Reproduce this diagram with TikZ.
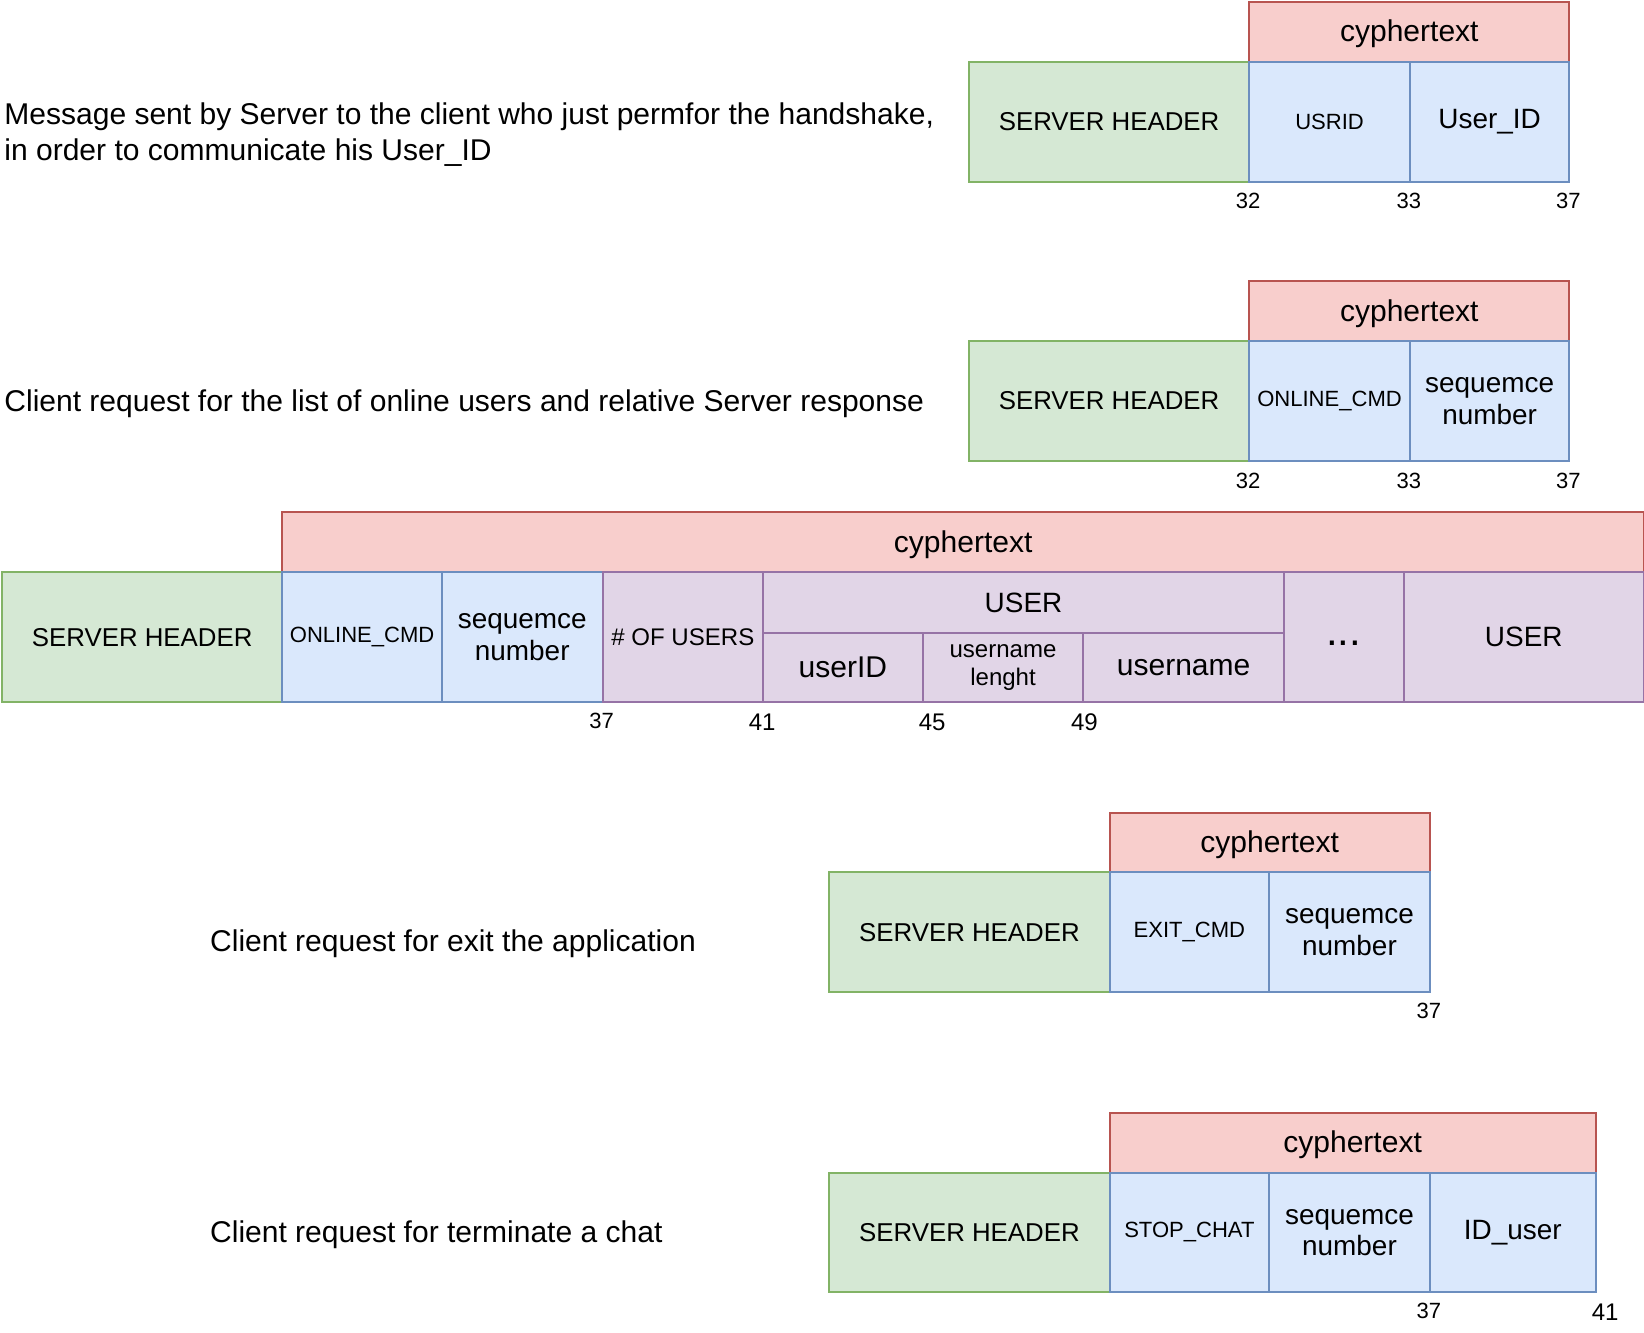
\documentclass[tikz,border=0pt]{standalone}
\usepackage{fontspec}
\setmainfont{Liberation Sans}
\definecolor{gfill}{HTML}{D5E8D4}\definecolor{gline}{HTML}{82B366}
\definecolor{bfill}{HTML}{DAE8FC}\definecolor{bline}{HTML}{6C8EBF}
\definecolor{rfill}{HTML}{F8CECC}\definecolor{rline}{HTML}{B85450}
\definecolor{pfill}{HTML}{E1D5E7}\definecolor{pline}{HTML}{9673A6}
\newcommand\fs[2]{\fontsize{#1}{#2}\selectfont}
\newcommand\sinktext[2]{\raisebox{-#1}[\height][\depth]{#2}}
\tikzset{
  cellbox/.style={draw, line width=1.9pt, inner sep=2pt, anchor=north west, align=center, font=\fs{26.6}{30}},
  grn/.style={cellbox, fill=gfill, draw=gline, font=\fs{24.6}{28}},
  blu/.style={cellbox, fill=bfill, draw=bline},
  red/.style={cellbox, fill=rfill, draw=rline, font=\fs{28.6}{33}},
  pur/.style={cellbox, fill=pfill, draw=pline},
  small/.style={font=\fs{21}{25}},
  mid/.style={font=\fs{22.9}{26}},
  big/.style={font=\fs{28.6}{33}},
  numlab/.style={inner sep=0pt, font=\fs{21}{25}},
  numlabb/.style={inner sep=0pt, font=\fs{22.9}{26}},
  desc/.style={inner sep=0pt, anchor=west, align=left, font=\fs{28.6}{34}}
}
% \cell{name}{style}{x1}{y1}{x2}{y2}{text}
\newcommand\cell[7]{\node[#2, minimum width={#5-#3}, minimum height={#6-#4}] (#1) at (#3,#4) {#7};}
\begin{document}
\begin{tikzpicture}[x=1pt,y=-1pt]
\useasboundingbox (0,0) rectangle (1566,1269);
% Row 1
\cell{ra}{red}{1189}{1}{1494}{58}{\sinktext{2pt}{cyphertext}}
\cell{ha}{grn}{922}{58}{1189}{172}{SERVER HEADER}
\cell{a1}{blu,small}{1189}{58}{1342}{172}{USRID}
\cell{a2}{blu}{1342}{58}{1494}{172}{User\_ID}
\node[numlab] (na1) at (1189,191) {32};
\node[numlab] (na2) at (1342,191) {33};
\node[numlab] (na3) at (1494,191) {37};
\node[desc] (da) at (4,128) {Message sent by Server to the client who just permfor the handshake,\\in order to communicate his User\_ID};
% Row 2
\cell{rb}{red}{1189}{267}{1494}{324}{\sinktext{2pt}{cyphertext}}
\cell{hb}{grn}{922}{324}{1189}{438}{SERVER HEADER}
\cell{b1}{blu,small}{1189}{324}{1342}{438}{ONLINE\_CMD}
\cell{b2}{blu}{1342}{324}{1494}{438}{sequemce\\number}
\node[numlab] (nb1) at (1189,458) {32};
\node[numlab] (nb2) at (1342,458) {33};
\node[numlab] (nb3) at (1494,458) {37};
\node[desc] (db) at (4,385) {Client request for the list of online users and relative Server response};
% Row 3
\cell{rc}{red}{268}{487}{1565}{544}{\sinktext{2pt}{cyphertext}}
\cell{hc}{grn}{1}{544}{268}{668}{SERVER HEADER}
\cell{c1}{blu,small}{268}{544}{420}{668}{ONLINE\_CMD}
\cell{c2}{blu}{420}{544}{573}{668}{sequemce\\number}
\cell{c3}{pur,mid}{573}{544}{726}{668}{\# OF USERS}
\cell{c4}{pur}{726}{544}{1222}{602}{USER}
\cell{c5}{pur,big}{726}{602}{878}{668}{userID}
\cell{c6}{pur,mid}{878}{602}{1031}{668}{username\\lenght}
\cell{c7}{pur,big}{1031}{602}{1222}{668}{username}
\cell{c8}{pur,font=\fs{40}{44}}{1222}{544}{1336}{668}{\sinktext{6pt}{...}}
\cell{c9}{pur}{1336}{544}{1565}{668}{USER}
\node[numlab] (nc1) at (573,687) {37};
\node[numlabb] (nc2) at (726,688) {41};
\node[numlabb] (nc3) at (888,688) {45};
\node[numlabb] (nc4) at (1033,688) {49};
% Row 4
\cell{rd}{red}{1056}{773}{1361}{830}{\sinktext{2pt}{cyphertext}}
\cell{hd}{grn}{789}{830}{1056}{944}{SERVER HEADER}
\cell{d1}{blu,small}{1056}{830}{1208}{944}{EXIT\_CMD}
\cell{d2}{blu}{1208}{830}{1361}{944}{sequemce\\number}
\node[numlab] (nd1) at (1361,963) {37};
\node[desc] (dd) at (200,899) {Client request for exit the application};
% Row 5
\cell{re}{red}{1056}{1059}{1519}{1116}{\sinktext{2pt}{cyphertext}}
\cell{he}{grn}{789}{1116}{1056}{1230}{SERVER HEADER}
\cell{e1}{blu,small}{1056}{1116}{1208}{1230}{STOP\_CHAT}
\cell{e2}{blu}{1208}{1116}{1361}{1230}{sequemce\\number}
\cell{e3}{blu}{1361}{1116}{1519}{1230}{ID\_user}
\node[numlab] (ne1) at (1361,1249) {37};
\node[numlabb] (ne2) at (1529,1250) {41};
\node[desc] (de) at (200,1176) {Client request for terminate a chat};
\end{tikzpicture}
\end{document}
